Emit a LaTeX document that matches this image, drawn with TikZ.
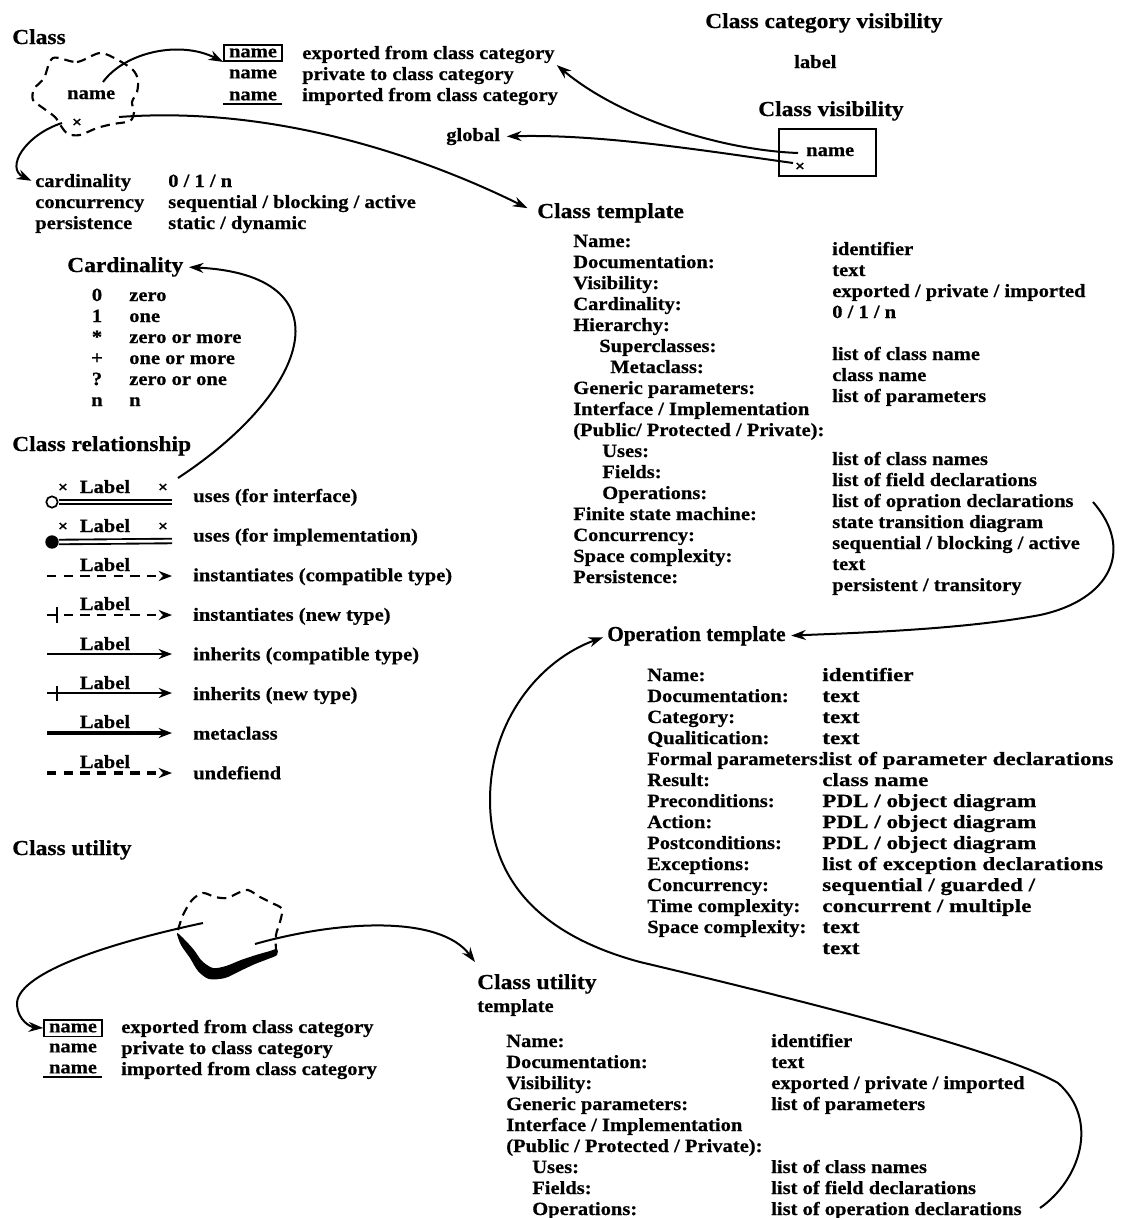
\documentclass[tikz,border=0pt]{standalone}
\usepackage{fontspec}
\setmainfont{Liberation Serif}[FakeStretch=1.1,BoldFeatures={FakeBold=0.6}]
\newfontfamily\plainserif{Liberation Serif}[BoldFeatures={FakeBold=0.6}]
\newfontfamily\wideserif{Liberation Serif}[FakeStretch=1.24,BoldFeatures={FakeBold=0.6}]
\usetikzlibrary{arrows.meta}
\newcommand\bodyfont{\fontsize{14pt}{16pt}\selectfont\bfseries}
\newcommand\widefont{\wideserif\fontsize{14pt}{16pt}\selectfont\bfseries}
\newcommand\headfont{\fontsize{16pt}{18pt}\selectfont\bfseries}
\newcommand\narrowhead{\plainserif\fontsize{16pt}{18pt}\selectfont\bfseries}
\newcommand\tinyfont{\fontsize{12pt}{12pt}\selectfont\bfseries}
\begin{document}
\begin{tikzpicture}[x=0.75pt,y=-0.75pt,
  txt/.style={anchor=base west,inner sep=0pt,font=\bodyfont},
  wtxt/.style={anchor=base west,inner sep=0pt,font=\widefont},
  mid/.style={anchor=base,inner sep=0pt,font=\bodyfont},
  hd/.style={anchor=base west,inner sep=0pt,font=\headfont},
  xm/.style={inner sep=0pt,font=\tinyfont},
  conn/.style={line width=1.5pt,-{Stealth[length=11pt,width=7.5pt]}},
  cloudline/.style={line width=1.6pt,dash pattern=on 7pt off 4.5pt},
  rel/.style={line width=1.6pt,-{Stealth[length=10pt,width=7.5pt]}},
  reldash/.style={rel,dash pattern=on 7pt off 5.5pt},
  uses/.style={line width=1.4pt,double,double distance=2pt},
  namebox/.style={draw,line width=1.1pt,inner xsep=3.8pt,inner ysep=2.8pt,font=\bodyfont},
  plain/.style={inner sep=0pt,font=\bodyfont}
]
\useasboundingbox (0,0) rectangle (1125,1218);

% ---------------- Class ----------------
\node[hd] (hClass) at (12,44) {Class};
\draw[cloudline] plot[smooth cycle,tension=0.5] coordinates {
  (53,58) (77,62) (100,53) (118,60) (133,70) (138,80) (137,92) (132,102)
  (134,112) (130,121) (113,124) (97,128) (80,135) (68,134) (61,126)
  (55,117) (43,108) (33,100) (34,89) (44,78)};
\node[txt] (cname) at (67,99) {name};
\node[xm] (cx) at (77,123) {×};

\node[namebox] (nbox) at (253,53) {name};
\node[plain] (npriv) at (253,74) {name};
\node[plain] (nimp) at (253,96) {name};
\draw[line width=1.1pt] (223,104) -- (282,104);
\node[txt] (e1) at (302,59) {exported from class category};
\node[txt] (e2) at (302,80) {private to class category};
\node[txt] (e3) at (302,101) {imported from class category};

\node[txt] (pc1) at (35,187) {cardinality};
\node[txt] (pc2) at (35,208) {concurrency};
\node[txt] (pc3) at (35,229) {persistence};
\node[txt] (pv1) at (168,187) {0 / 1 / n};
\node[txt] (pv2) at (168,208) {sequential / blocking / active};
\node[txt] (pv3) at (168,229) {static / dynamic};

\coordinate (a1s) at (103,82);
\coordinate (a2s) at (119,117);
\coordinate (a3s) at (62,123);
\draw[conn] (a1s) .. controls (125,52) and (180,40) .. (nbox.south west);
\draw[conn,shorten >=3pt] (a3s) .. controls (25,135) and (5,168) .. (pc1.west);

% ---------------- Visibility ----------------
\node[hd] (hCCV) at (705,28) {Class category visibility};
\node[txt] (lbl) at (794,68) {label};
\node[hd] (hCV) at (758,116) {Class visibility};
\node[draw,line width=1.8pt,minimum width=72.75pt,minimum height=35.25pt,inner sep=0pt] (vbox) at (827.5,152.5) {};
\node[txt] (vname) at (806,156) {name};
\node[xm] (vx) at (800,167) {×};
\node[txt] (glob) at (446,141) {global};
\coordinate (v1s) at (798,153);
\coordinate (v2s) at (793,163);
\draw[conn,shorten >=2pt] (v1s) .. controls (720,150) and (620,118) .. (e1.south east);
\draw[conn,shorten >=5pt] (v2s) .. controls (700,150) and (600,134) .. (glob.east);

% ---------------- Class template ----------------
\node[hd] (hCT) at (537,218) {Class template};
\draw[conn,shorten >=8pt] (a2s) .. controls (280,105) and (430,160) .. (hCT.west);

\foreach \t [count=\i from 0] in {Name:,Documentation:,Visibility:,Cardinality:,Hierarchy:}
  \node[txt] (ctl\i) at (573,{247+21*\i}) {\t};
\node[txt] (ctl5) at (599,352) {Superclasses:};
\node[txt] (ctl6) at (610,373) {Metaclass:};
\foreach \t [count=\i from 7] in {Generic parameters:,Interface / Implementation,(Public/ Protected / Private):}
  \node[txt] (ctl\i) at (573,{247+21*\i}) {\t};
\foreach \t [count=\i from 10] in {Uses:,Fields:,Operations:}
  \node[txt] (ctl\i) at (602,{247+21*\i}) {\t};
\foreach \t [count=\i from 13] in {Finite state machine:,Concurrency:,Space complexity:,Persistence:}
  \node[txt] (ctl\i) at (573,{247+21*\i}) {\t};

\foreach \t [count=\i from 0] in {identifier,text,exported / private / imported,0 / 1 / n}
  \node[txt] (ctv\i) at (832,{255+21*\i}) {\t};
\foreach \t [count=\i from 5] in {list of class name,class name,list of parameters}
  \node[txt] (ctv\i) at (832,{255+21*\i}) {\t};
\foreach \t [count=\i from 10] in {list of class names,list of field declarations,list of opration declarations,state transition diagram,sequential / blocking / active,text,persistent / transitory}
  \node[txt] (ctv\i) at (832,{255+21*\i}) {\t};

% ---------------- Operation template ----------------
\node[anchor=base west,inner sep=0pt,font=\narrowhead] (hOT) at (607,641) {Operation template};
\coordinate (ops) at (1093,502);
\draw[conn,shorten >=4pt] (ops) .. controls (1135,550) and (1110,600) .. (1040,615)
  .. controls (960,630) and (850,633) .. (hOT.east);

\foreach \t [count=\i from 0] in {Name:,Documentation:,Category:,Qualitication:,Formal parameters:,Result:,Preconditions:,Action:,Postconditions:,Exceptions:,Concurrency:,Time complexity:,Space complexity:}
  \node[txt] (otl\i) at (647,{681+21*\i}) {\t};
\foreach \t [count=\i from 0] in {identifier,text,text,text,list of parameter declarations,class name,PDL / object diagram,PDL / object diagram,PDL / object diagram,list of exception declarations,sequential / guarded /,concurrent / multiple,text,text}
  \node[wtxt] (otv\i) at (822,{681+21*\i}) {\t};

% ---------------- Cardinality ----------------
\node[hd] (hCard) at (67,272) {Cardinality};
\foreach \s/\t [count=\i from 0] in {0/zero,1/one,*/zero or more,+/one or more,?/zero or one,n/n}{
  \node[mid] (cs\i) at (97,{301+21*\i}) {\s};
  \node[txt] (ct\i) at (129,{301+21*\i}) {\t};
}

% ---------------- Class relationship ----------------
\node[hd] (hRel) at (12,451) {Class relationship};
\coordinate (rcs) at (178,478);
\draw[conn,shorten >=4pt] (rcs) .. controls (312,390) and (348,275) .. (hCard.east);

% uses (interface)
\node[circle,draw,line width=1.3pt,minimum size=8.5pt,inner sep=0pt] (r1a) at (52,502) {};
\coordinate (r1b) at (172,502);
\draw[uses] (r1a.east) -- (r1b);
\node[xm] (r1x1) at (63,488) {×};
\node[xm] (r1x2) at (163,488) {×};
\node[mid] (r1l) at (105,493) {Label};
% uses (implementation)
\node[circle,fill,minimum size=10pt,inner sep=0pt] (r2a) at (52,542) {};
\coordinate (r2b) at (172,541);
\draw[uses] (r2a.east) -- (r2b);
\node[xm] (r2x1) at (63,527) {×};
\node[xm] (r2x2) at (163,527) {×};
\node[mid] (r2l) at (105,532) {Label};
% instantiates (compatible)
\coordinate (r3a) at (47,576); \coordinate (r3b) at (172,576);
\draw[reldash] (r3a) -- (r3b);
\node[mid] (r3l) at (105,571) {Label};
% instantiates (new)
\coordinate (r4a) at (47,615); \coordinate (r4b) at (172,615);
\draw[reldash] (r4a) -- (r4b);
\draw[line width=1.6pt] (57,607) -- (57,623);
\node[mid] (r4l) at (105,610) {Label};
% inherits (compatible)
\coordinate (r5a) at (47,654); \coordinate (r5b) at (172,654);
\draw[rel] (r5a) -- (r5b);
\node[mid] (r5l) at (105,650) {Label};
% inherits (new)
\coordinate (r6a) at (47,693); \coordinate (r6b) at (172,693);
\draw[rel] (r6a) -- (r6b);
\draw[line width=1.6pt] (57,686) -- (57,701);
\node[mid] (r6l) at (105,689) {Label};
% metaclass
\coordinate (r7a) at (47,733); \coordinate (r7b) at (172,733);
\draw[rel,line width=2.6pt] (r7a) -- (r7b);
\node[mid] (r7l) at (105,728) {Label};
% undefined
\coordinate (r8a) at (47,773); \coordinate (r8b) at (172,773);
\draw[reldash,line width=2.6pt] (r8a) -- (r8b);
\node[mid] (r8l) at (105,768) {Label};

\foreach \t [count=\i from 0] in {uses (for interface),uses (for implementation),instantiates (compatible type),instantiates (new type),inherits (compatible type),inherits (new type),metaclass,undefiend}
  \node[txt] (rt\i) at (193,{502+39.6*\i}) {\t};

% ---------------- Class utility ----------------
\node[hd] (hCU) at (12,855) {Class utility};
\draw[cloudline] plot[smooth,tension=0.5] coordinates {
  (178,930) (183,915) (192,900) (203,893) (215,897) (227,898) (238,893)
  (248,890) (260,897) (272,903) (282,909) (280,922) (276,935) (276,952)};
\fill plot[smooth cycle,tension=0.5] coordinates {
  (177,933) (185,940) (194,950) (202,961) (213,968) (226,966) (241,960)
  (256,955) (270,951) (277,949) (277,955) (268,959) (255,964) (240,971)
  (225,978) (209,979) (198,971) (190,958) (181,945)};

\node[namebox] (ubox) at (73,1028) {name};
\node[plain] (upriv) at (73,1048) {name};
\node[plain] (uimp) at (73,1069) {name};
\draw[line width=1.1pt] (43,1077) -- (102,1077);
\node[txt] (ue1) at (121,1033) {exported from class category};
\node[txt] (ue2) at (121,1054) {private to class category};
\node[txt] (ue3) at (121,1075) {imported from class category};

\coordinate (u1s) at (203,923);
\coordinate (u2s) at (255,944);
\coordinate (u2e) at (475,962);
\draw[conn] (u1s) .. controls (100,945) and (15,975) .. (17,1005)
  .. controls (18,1020) and (30,1027) .. (ubox.west);
\draw[conn] (u2s) .. controls (340,920) and (440,915) .. (u2e);

% ---------------- Class utility template ----------------
\node[hd] (hCUT) at (477,989) {Class utility};
\node[txt] (hCUT2) at (477,1012) {template};
\foreach \t [count=\i from 0] in {Name:,Documentation:,Visibility:,Generic parameters:,Interface / Implementation,(Public / Protected / Private):}
  \node[txt] (cul\i) at (506,{1047+21*\i}) {\t};
\foreach \t [count=\i from 6] in {Uses:,Fields:,Operations:}
  \node[txt] (cul\i) at (532,{1047+21*\i}) {\t};
\foreach \t [count=\i from 0] in {identifier,text,exported / private / imported,list of parameters}
  \node[txt] (cuv\i) at (771,{1047+21*\i}) {\t};
\foreach \t [count=\i from 6] in {list of class names,list of field declarations,list of operation declarations}
  \node[txt] (cuv\i) at (771,{1047+21*\i}) {\t};

\coordinate (bigs) at (1040,1208);
\draw[conn,shorten >=3pt] (bigs) .. controls (1080,1180) and (1100,1120) .. (1058,1083)
  .. controls (1000,1050) and (800,1000) .. (640,962)
  .. controls (540,935) and (490,880) .. (490,800)
  .. controls (490,720) and (540,660) .. (hOT.west);
\end{tikzpicture}
\end{document}
